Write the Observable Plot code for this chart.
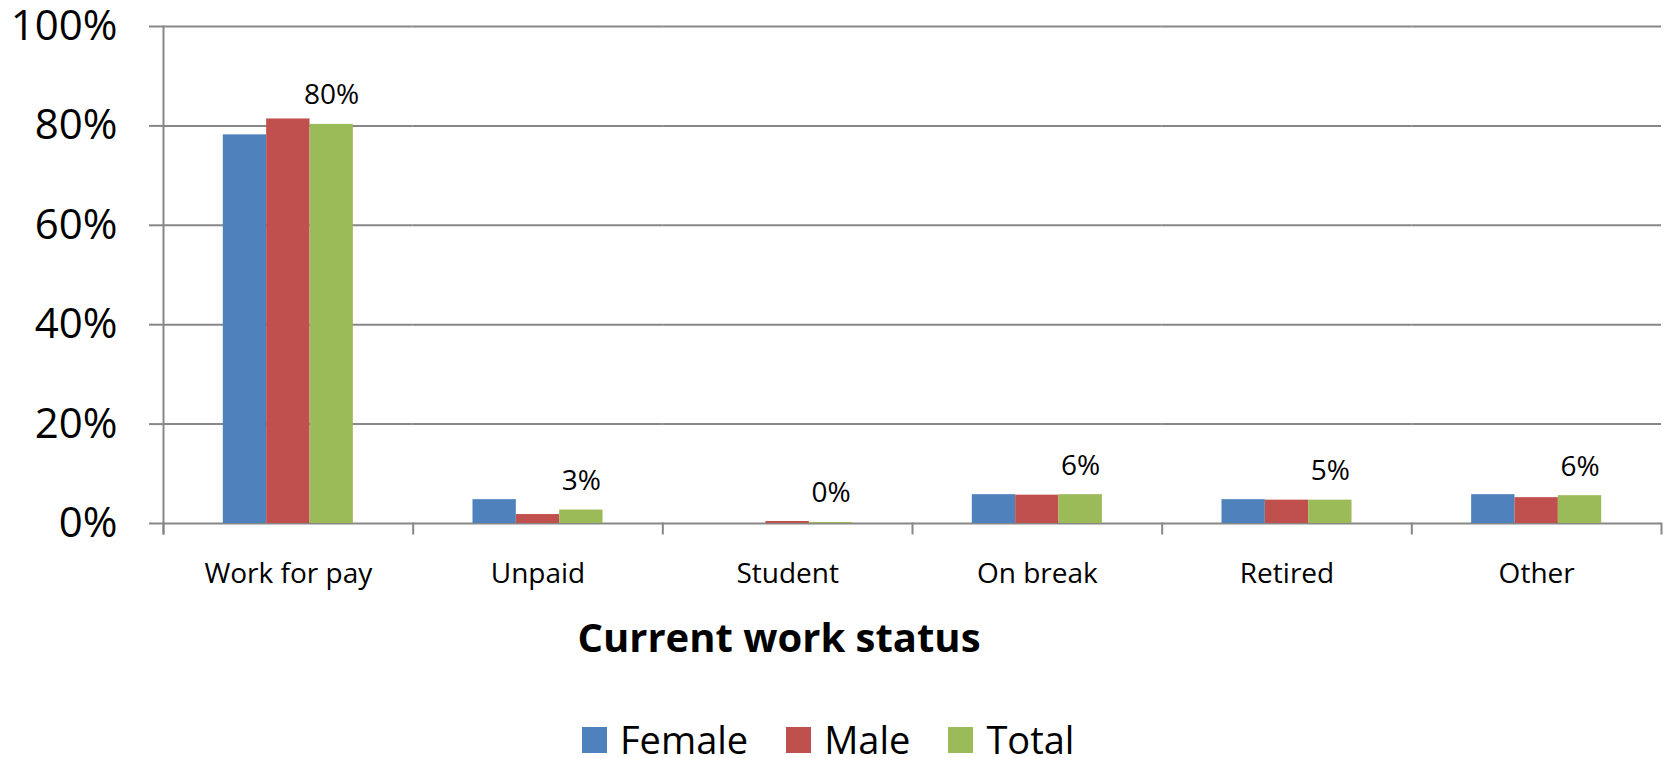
<!DOCTYPE html>
<html>
<head>
<meta charset="utf-8">
<script src="https://cdn.jsdelivr.net/npm/d3@7"></script>
<script src="https://cdn.jsdelivr.net/npm/@observablehq/plot@0.6"></script>
<style>
  html, body { margin: 0; padding: 0; background: #fff; }
  #wrap { position: relative; width: 1670px; height: 758px; overflow: hidden; background: #fff; font-family: "Open Sans", sans-serif; color: #000; }
  #chart { position: absolute; left: 0; top: 0; }
  #xtitle { position: absolute; left: 779px; top: 617px; transform: translateX(-50%); font-weight: 700; font-size: 40px; line-height: 1; white-space: nowrap; }
  #legend { position: absolute; left: 582px; top: 722px; display: flex; align-items: flex-start; font-size: 38px; line-height: 0.9; white-space: nowrap; }
  #legend .item { display: flex; align-items: flex-start; margin-right: 38px; }
  #legend .sw { width: 25px; height: 26px; margin-top: 5px; margin-right: 13px; }
</style>
</head>
<body>
<div id="wrap">
  <div id="chart"></div>
  <div id="xtitle">Current work status</div>
  <div id="legend"></div>
</div>
<script>
const categories = ["Work for pay", "Unpaid", "Student", "On break", "Retired", "Other"];
const series = ["Female", "Male", "Total"];
const colors = ["#4F81BD", "#C0504D", "#9BBB59"];
const female = [0.782, 0.048, 0.000, 0.058, 0.048, 0.058];
const male   = [0.814, 0.018, 0.004, 0.057, 0.047, 0.052];
const total  = [0.803, 0.027, 0.002, 0.058, 0.047, 0.056];
const yTicks = [0, 0.2, 0.4, 0.6, 0.8, 1.0];
const xTitle = "Current work status";

const valuesBySeries = [female, male, total];
const rows = categories.flatMap((c, i) =>
  series.map((s, j) => ({category: c, series: s, value: valuesBySeries[j][i]}))
);
const pct = d3.format(".0%");
const gray = "#878787";

const H = 610;
const chart = Plot.plot({
  width: 1670,
  height: H,
  marginTop: 26,
  marginBottom: 87,
  marginLeft: 163,
  marginRight: 9,
  style: {fontFamily: "'Open Sans', sans-serif", background: "white", color: "black", overflow: "visible"},
  fx: {domain: categories, padding: 0, round: false, label: null},
  x: {domain: series, paddingInner: 0, paddingOuter: 1.38, round: false, axis: null},
  y: {domain: [0, 1], axis: null},
  color: {domain: series, range: colors},
  marks: [
    Plot.gridY({ticks: yTicks, stroke: gray, strokeOpacity: 1, strokeWidth: 2}),
    Plot.barY(rows, {fx: "category", x: "series", y: "value", fill: "series"}),
    Plot.text(rows.filter(d => d.series === "Total"), {
      fx: "category", x: "series", y: "value",
      text: d => pct(d.value), dy: -29, fontSize: 28, fill: "black"
    }),
    Plot.axisY({ticks: yTicks, tickSize: 14, tickPadding: 32, tickFormat: pct, fontSize: 42,
      stroke: gray, strokeWidth: 2, fill: "black", label: null}),
    Plot.frame({anchor: "left", insetBottom: -10, stroke: gray, strokeWidth: 2, facetAnchor: "left"}),
    Plot.frame({anchor: "left", insetTop: H - 26 - 87, insetBottom: -10, stroke: gray, strokeWidth: 2}),
    Plot.frame({anchor: "right", insetTop: H - 26 - 87, insetBottom: -10, stroke: gray, strokeWidth: 2, facetAnchor: "right"}),
    Plot.axisFx({anchor: "bottom", tickSize: 0, tickPadding: 40, fontSize: 28, fill: "black", label: null})
  ]
});
document.getElementById("chart").appendChild(chart);

const legend = document.getElementById("legend");
series.forEach((s, i) => {
  const item = document.createElement("div");
  item.className = "item";
  const sw = document.createElement("span");
  sw.className = "sw";
  sw.style.background = colors[i];
  const t = document.createElement("span");
  t.textContent = s;
  item.appendChild(sw);
  item.appendChild(t);
  legend.appendChild(item);
});
</script>
</body>
</html>
